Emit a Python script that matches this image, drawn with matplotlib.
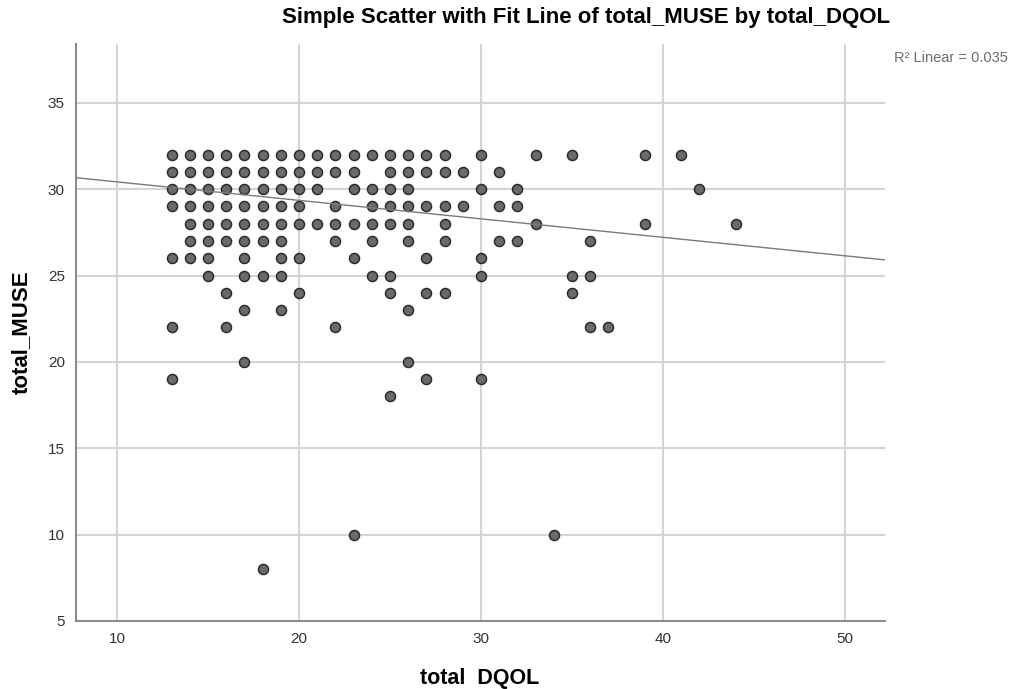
import matplotlib.pyplot as plt
import numpy as np

# total_MUSE values (one row of dots per value) and the total_DQOL values seen on each row
muse_levels = [32, 31, 30, 29, 28, 27, 26, 25, 24, 23, 22, 20, 19, 18, 10, 8]
dqol_by_level = [
    [13, 14, 15, 16, 17, 18, 19, 20, 21, 22, 23, 24, 25, 26, 27, 28, 30, 33, 35, 39, 41],
    [13, 14, 15, 16, 17, 18, 19, 20, 21, 22, 23, 25, 26, 27, 28, 29, 31],
    [13, 14, 15, 16, 17, 18, 19, 20, 21, 23, 24, 25, 26, 30, 32, 42],
    [13, 14, 15, 16, 17, 18, 19, 20, 22, 24, 25, 26, 27, 28, 29, 31, 32],
    [14, 15, 16, 17, 18, 19, 20, 21, 22, 23, 24, 25, 26, 28, 33, 39, 44],
    [14, 15, 16, 17, 18, 19, 22, 24, 26, 28, 31, 32, 36],
    [13, 14, 15, 17, 19, 20, 23, 27, 30],
    [15, 17, 18, 19, 24, 25, 30, 35, 36],
    [16, 20, 25, 27, 28, 35],
    [17, 19, 26],
    [13, 16, 22, 36, 37],
    [17, 26],
    [13, 27, 30],
    [25],
    [23, 34],
    [18],
]

# fit line
fit_intercept = 31.49
fit_slope = -0.107
r2_text = "R\u00b2 Linear = 0.035"

x = np.concatenate([np.array(v, dtype=float) for v in dqol_by_level])
y = np.concatenate([np.full(len(v), m, dtype=float) for m, v in zip(muse_levels, dqol_by_level)])

plt.rcParams['font.family'] = ['Liberation Sans', 'DejaVu Sans']

fig = plt.figure(figsize=(10.11, 6.89), dpi=100)
ax = fig.add_axes([0.0752, 0.0987, 0.8002, 0.8374])

xlim = (7.75, 52.2)
ylim = (5, 38.4)
ax.set_xlim(xlim)
ax.set_ylim(ylim)

ax.set_xticks([10, 20, 30, 40, 50])
ax.set_yticks([5, 10, 15, 20, 25, 30, 35])
ax.grid(True, color='#d4d4d4', linewidth=1.5)
ax.set_axisbelow(True)

ax.scatter(x, y, s=52, color='#6a6a6a', edgecolors='#2b2b2b', linewidths=1.1, zorder=3)

# fit line
xs = np.array(xlim)
ax.plot(xs, fit_intercept + fit_slope * xs, color='#7a7a7a', linewidth=1.0, zorder=4)

for s in ['top', 'right']:
    ax.spines[s].set_visible(False)
for s in ['left', 'bottom']:
    ax.spines[s].set_color('#8c8c8c')
    ax.spines[s].set_linewidth(1.5)

ax.tick_params(length=0, pad=8, labelsize=11, labelcolor='#333333')

ax.set_xlabel('total  DQOL', fontsize=15.5, fontweight='bold', va='center')
ax.set_ylabel('total_MUSE', fontsize=16, fontweight='bold', va='center')
ax.xaxis.set_label_coords(0.4994, -0.1005)
ax.yaxis.set_label_coords(-0.068, 0.5)

fig.text(0.5795, 0.974, 'Simple Scatter with Fit Line of total_MUSE by total_DQOL',
         ha='center', va='center', fontsize=16, fontweight='bold')
fig.text(0.997, 0.916, r2_text, ha='right', va='center', fontsize=10.5, color='#6e6e6e')

fig.savefig('out.png', dpi=100)
